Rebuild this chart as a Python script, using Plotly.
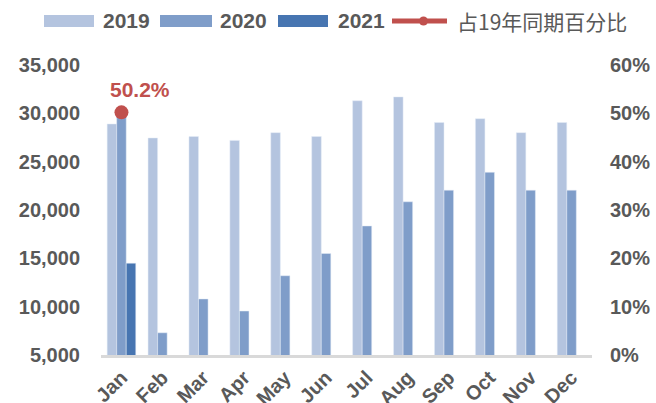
import plotly.graph_objects as go

months = ["Jan", "Feb", "Mar", "Apr", "May", "Jun", "Jul", "Aug", "Sep", "Oct", "Nov", "Dec"]
v2019 = [28900, 27450, 27600, 27200, 28000, 27600, 31300, 31700, 29050, 29450, 28000, 29050]
v2020 = [29650, 7300, 10800, 9550, 13200, 15500, 18350, 20850, 22050, 23900, 22050, 22050]
v2021 = [14500, None, None, None, None, None, None, None, None, None, None, None]
pct = [0.502, None, None, None, None, None, None, None, None, None, None, None]

names = ["2019", "2020", "2021", "占19年同期百分比"]
c2019, c2020, c2021, cred = "#B4C4DF", "#7F9DC9", "#4775B1", "#C0504D"
gray = "#595959"
FONT = "Liberation Sans, Arial, Noto Sans CJK SC, sans-serif"

W, H = 656, 403
L, R, T, B = 101, 64, 65, 48
PW, PH = W - L - R, H - T - B

def px(x):
    return (x - L) / PW

def py(y):
    return (H - B - y) / PH

fig = go.Figure()
fig.add_bar(x=months, y=v2019, name=names[0], marker_color=c2019, showlegend=False)
fig.add_bar(x=months, y=v2020, name=names[1], marker_color=c2020, showlegend=False)
fig.add_bar(x=months, y=v2021, name=names[2], marker_color=c2021, showlegend=False)
fig.add_scatter(x=months, y=pct, name=names[3], yaxis="y2", mode="lines+markers",
                line=dict(color=cred, width=3), marker=dict(color=cred, size=14),
                showlegend=False, cliponaxis=False)

# data label
for m, p in zip(months, pct):
    if p is not None:
        fig.add_annotation(x=m, y=p, yref="y2", text=f"{p*100:.1f}%", showarrow=False,
                           xshift=19, yshift=23,
                           font=dict(family=FONT, size=21, color=cred, weight="bold"))

# custom legend
shapes = []
annos = []
leg_y = 21
items = [(44, 94, c2019, 101, names[0]),
         (160, 212, c2020, 218, names[1]),
         (278, 328, c2021, 336, names[2])]
for x0, x1, col, tx, txt in items:
    shapes.append(dict(type="rect", xref="paper", yref="paper", x0=px(x0), x1=px(x1),
                       y0=py(leg_y + 6), y1=py(leg_y - 6), fillcolor=col, line_width=0))
    annos.append(dict(xref="paper", yref="paper", x=px(tx), y=py(leg_y), xanchor="left",
                      yanchor="middle", text=txt, showarrow=False,
                      font=dict(family=FONT, size=21, color=gray, weight="bold")))
shapes.append(dict(type="line", xref="paper", yref="paper", x0=px(392), x1=px(447),
                   y0=py(leg_y), y1=py(leg_y), line=dict(color=cred, width=5)))
shapes.append(dict(type="circle", xref="paper", yref="paper", x0=px(419), x1=px(428),
                   y0=py(leg_y - 4.5), y1=py(leg_y + 4.5), fillcolor=cred, line_width=0))
annos.append(dict(xref="paper", yref="paper", x=px(455), y=py(leg_y), xanchor="left",
                  yanchor="middle", text=names[3], showarrow=False,
                  font=dict(family="Noto Sans CJK SC, sans-serif", size=21, color=gray)))

for a in annos:
    fig.add_annotation(**a)

fig.update_layout(
    width=W, height=H,
    margin=dict(l=L, r=R, t=T, b=B, autoexpand=False),
    paper_bgcolor="white", plot_bgcolor="white",
    barmode="group", bargap=0.3, bargroupgap=0,
    shapes=shapes,
    font=dict(family=FONT, color=gray),
    xaxis=dict(range=[-0.5, len(months) - 0.5], showgrid=False, showline=True,
               linecolor="#D9D9D9", linewidth=3,
               tickangle=-45, tickfont=dict(size=20, weight="bold", color=gray),
               ticklabelstandoff=0, automargin=False, ticks=""),
    yaxis=dict(range=[5000, 35000], dtick=5000, tickformat=",", showgrid=False,
               zeroline=False, showline=False, ticklabelstandoff=20,
               tickfont=dict(size=20, weight="bold", color=gray), automargin=False),
    yaxis2=dict(range=[0, 0.6], dtick=0.1, tickformat=".0%", overlaying="y", side="right",
                showgrid=False, zeroline=False, showline=False, ticklabelstandoff=17,
                tickfont=dict(size=20, weight="bold", color=gray), automargin=False),
)

fig.write_html("out.html")
